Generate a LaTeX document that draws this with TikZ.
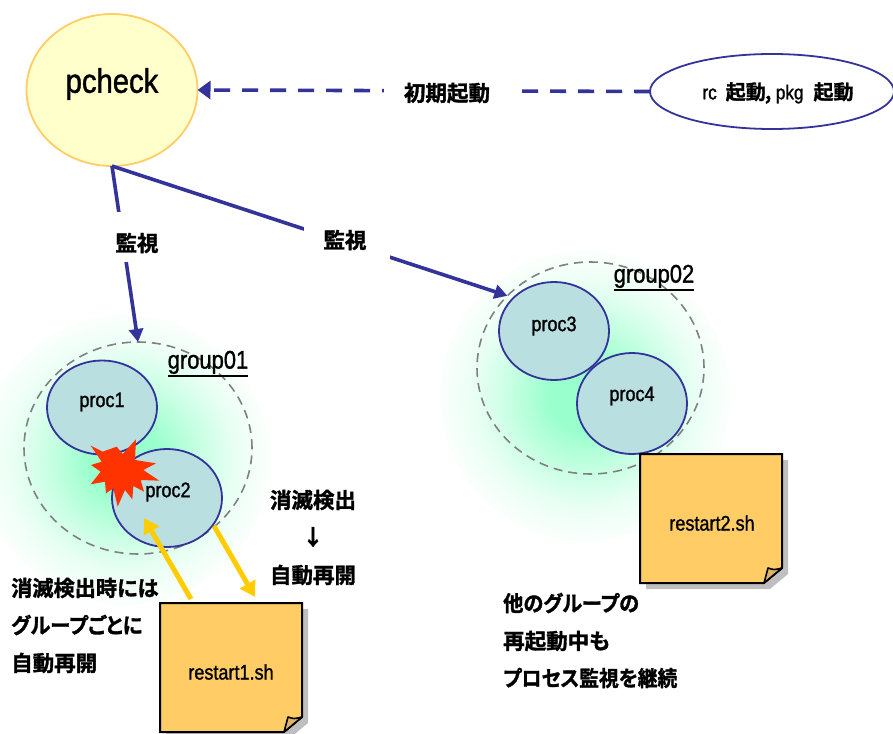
\documentclass[tikz,border=0pt]{standalone}
\usepackage{graphicx}
\usepackage{fontspec}
\usetikzlibrary{shapes.geometric,arrows.meta,shadings}
\setmainfont{Noto Sans CJK JP}[BoldFont={* Bold}]
\newfontfamily\lat{Liberation Sans}[FakeStretch=0.86,FakeBold=1.2]
\newfontfamily\jp{Noto Sans CJK JP Bold}[FakeBold=1.5,RawFeature={+palt}]
\newcommand\ulbox[1]{\leavevmode\vtop{\hbox{#1}\kern1.5pt\hrule height 1.8pt}}
\definecolor{navy}{HTML}{333399}
\definecolor{procfill}{HTML}{B9DFE1}
\definecolor{pfill}{HTML}{FFFFCC}
\definecolor{pline}{HTML}{FFCC66}
\definecolor{notefill}{HTML}{FFCC66}
\definecolor{foldfill}{HTML}{DDB36B}
\definecolor{burst}{HTML}{FF3300}
\definecolor{amber}{HTML}{FFCC00}
\definecolor{glowc}{HTML}{99FFCC}
\pgfdeclareradialshading{glow}{\pgfpoint{0bp}{0bp}}{%
 color(0bp)=(glowc); color(6bp)=(glowc); color(13bp)=(glowc!55!white); color(19bp)=(glowc!22!white); color(24bp)=(glowc!6!white); color(28bp)=(white); color(100bp)=(white)}
\tikzset{
 proc/.style={ellipse,draw=navy,line width=1.8pt,fill=procfill,inner sep=0pt,outer sep=0pt,minimum width=110pt,minimum height=98pt},
 grp/.style={ellipse,draw=black!50,line width=1.6pt,dash pattern=on 9pt off 6pt,inner sep=0pt,outer sep=0pt},
 latlab/.style={font=\fontsize{21}{21}\selectfont\lat,text=black,inner sep=0pt},
 jplab/.style={font=\fontsize{21.5}{21.5}\selectfont\jp,text=black,inner sep=0pt,anchor=west},
 jpcen/.style={font=\fontsize{21.5}{21.5}\selectfont\jp,text=black,inner sep=0pt},
 gap/.style={fill=white,inner sep=0pt},
 watch/.style={draw=navy,line width=3.6pt,-{Triangle[length=13pt,width=14pt]}},
 restart/.style={draw=amber,line width=5pt,-{Triangle[length=15pt,width=17pt]}},
 noteanchor/.style={rectangle,inner sep=0pt,outer sep=0pt,minimum width=142pt,minimum height=129pt},
 notebody/.style={fill=notefill,draw=black,line width=2pt,line join=miter},
 foldflap/.style={fill=foldfill,draw=black,line width=1.6pt,line join=round},
 noteshadow/.style={fill=black!25,draw=none},
}
\newcommand\stickynote[1]{%
 \path[noteshadow] ([shift={(6,6)}]#1.north west) -- ([shift={(6,6)}]#1.north east) -- ([shift={(6,-9)}]#1.south east) -- ([shift={(-12,6)}]#1.south east) -- ([shift={(6,6)}]#1.south west) -- cycle;
 \path[notebody] (#1.north west) -- (#1.north east) -- ([shift={(0,-15)}]#1.south east) -- ([shift={(-18,0)}]#1.south east) -- (#1.south west) -- cycle;
 \path[foldflap] ([shift={(-18,0)}]#1.south east) .. controls ([shift={(-16,-8)}]#1.south east) .. ([shift={(-14,-15)}]#1.south east) .. controls ([shift={(-8,-13)}]#1.south east) .. ([shift={(0,-15)}]#1.south east) -- cycle;
}
\begin{document}
\begin{tikzpicture}[x=1pt,y=-1pt]
\useasboundingbox (0,0) rectangle (893,733);
\begin{scope}
\clip (0,0) rectangle (893,733);
\shade[shading=glow] (125,460) circle [radius=145];
\shade[shading=glow] (585,396) circle [radius=145];
\end{scope}
% groups
\node[grp,minimum width=228pt,minimum height=212pt] (group1) at (138,448) {};
\node[grp,minimum width=227pt,minimum height=212pt] (group2) at (590.5,368) {};
% top ellipses
\node[ellipse,draw=pline,line width=1.8pt,fill=pfill,inner sep=0pt,outer sep=0pt,minimum width=171pt,minimum height=152pt] (pcheck) at (112,90) {};
\node[ellipse,draw=navy,line width=1.8pt,fill=white,inner sep=0pt,outer sep=0pt,minimum width=244pt,minimum height=75pt] (rc) at (772,91.5) {};
\node[latlab,font=\fontsize{34}{34}\selectfont\lat] (pchecklab) at (112,84) {pcheck};
\node[font=\fontsize{20}{20}\selectfont\jp,inner sep=0pt] (rclab) at (778,93) {{\lat rc}\kern9pt 起動\kern-1pt, {\lat pkg}\kern10pt 起動};
% processes
\node[proc,minimum height=94pt] (proc1) at (102,407.5) {};
\node[proc] (proc2) at (167,498) {};
\node[proc] (proc3) at (554,331) {};
\node[proc,minimum height=101pt] (proc4) at (632,403.5) {};
% burst
\begin{scope}[shift={(80,430)},scale=1/3]
\fill[burst] (32,47)--(68,65)--(110,50)--(128,72)--(168,28)--(165,90)--(228,100)--(190,120)--(238,152)--(182,150)--(192,185)--(160,168)--(157,208)--(135,180)--(113,230)--(100,175)--(78,190)--(75,155)--(32,163)--(62,125)--(33,105)--(65,95)--cycle;
\end{scope}
\node[latlab] (p1lab) at (102,402) {proc1};
\node[latlab] (p2lab) at (168,492) {proc2};
\node[latlab] (p3lab) at (554,326) {proc3};
\node[latlab] (p4lab) at (632,396) {proc4};
\node[latlab,font=\fontsize{25.5}{25.5}\selectfont\lat] (g1lab) at (208,364) {\ulbox{group01}};
\node[latlab,font=\fontsize{25.5}{25.5}\selectfont\lat] (g2lab) at (654,278) {\ulbox{group02}};
% notes
\node[noteanchor] (note1) at (231,667.5) {};
\node[noteanchor] (note2) at (711,518.5) {};
\stickynote{note1}
\stickynote{note2}
\node[latlab] (n1lab) at (231,672) {restart1.sh};
\node[latlab] (n2lab) at (712,523) {restart2.sh};
% connectors
\draw[draw=navy,line width=3.6pt,dash pattern=on 16pt off 12pt,-{Triangle[length=13pt,width=18pt]}] (rc.west) -- (pcheck.east);
\draw[watch] (pcheck.south) -- (group1.north);
\draw[watch] (pcheck.south) -- (group2.139);
\node[gap,minimum width=138pt,minimum height=30pt] (initlab) at (453,92) {};
\node[jpcen] (inittxt) at (447,93) {初期起動};
\node[gap,minimum width=60pt,minimum height=50pt] (w1gap) at (137,237) {};
\node[jpcen] (w1lab) at (137,243) {監視};
\node[gap,minimum width=86pt,minimum height=56pt] (w2gap) at (347,238) {};
\node[jpcen] (w2lab) at (345,240) {監視};
% restart arrows
\coordinate (a1) at (191,599);
\coordinate (a2) at (144,518);
\coordinate (b1) at (214,526);
\coordinate (b2) at (255,597);
\draw[restart] (a1) -- (a2);
\draw[restart] (b1) -- (b2);
% texts
\node[jpcen] (det1) at (313,500) {消滅検出};
\node[jpcen] (detarrow) at (313,537) {↓};
\node[jpcen] (det2) at (313,575) {自動再開};
\node[jplab] (l1) at (11,588) {\scalebox{0.985}[1]{消滅検出時には}};
\node[jplab] (l2) at (11,625) {\scalebox{0.95}[1]{グループごとに}};
\node[jplab] (l3) at (11,663) {自動再開};
\node[jplab] (r1) at (503,603) {\scalebox{0.94}[1]{他のグループの}};
\node[jplab] (r2) at (503,641) {再起動中も};
\node[jplab] (r3) at (503,678) {\scalebox{0.92}[1]{プロセス監視を継続}};
\end{tikzpicture}
\end{document}
